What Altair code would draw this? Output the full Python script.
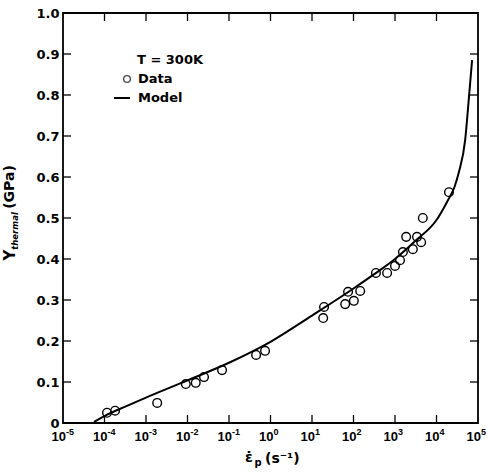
import altair as alt
import pandas as pd

# ---- data ----
data_rate = [1.15e-4, 1.8e-4, 1.86e-3, 9.1e-3, 1.58e-2, 2.5e-2, 6.8e-2, 0.45, 0.74,
             19.5, 18.6, 63, 74, 102, 145, 347, 646, 1000, 1320, 1550, 1860,
             2690, 3390, 4270, 4680, 2.0e4]
data_y = [0.025, 0.030, 0.049, 0.095, 0.098, 0.112, 0.129, 0.166, 0.176,
          0.283, 0.256, 0.290, 0.320, 0.298, 0.322, 0.366, 0.366, 0.383, 0.397, 0.417, 0.454,
          0.424, 0.454, 0.441, 0.500, 0.563]

model_rate = [5.6e-5, 1.0e-4, 3.16e-4, 1.0e-3, 1.0e-2, 1.0e-1, 1.0, 10.0, 100.0, 316.0,
              1000.0, 3162.0, 1.0e4, 1.9e4, 2.7e4, 3.47e4, 4.9e4, 6.0e4, 7.2e4]
model_y = [0.003, 0.017, 0.040, 0.062, 0.104, 0.147, 0.198, 0.262, 0.328, 0.363,
           0.400, 0.445, 0.495, 0.544, 0.575, 0.612, 0.690, 0.790, 0.885]

x_ticks = [1e-5, 1e-4, 1e-3, 1e-2, 1e-1, 1, 10, 100, 1000, 1e4, 1e5]
x_tick_base = ["10"] * 11
x_tick_exp = ["-5", "-4", "-3", "-2", "-1", "0", "1", "2", "3", "4", "5"]
y_ticks = [0, 0.1, 0.2, 0.3, 0.4, 0.5, 0.6, 0.7, 0.8, 0.9, 1.0]
inner_x_ticks = [1e-4, 1e-3, 1e-2, 1e-1, 1, 10, 100, 1000, 1e4]
inner_y_ticks = [0.1, 0.2, 0.3, 0.4, 0.5, 0.6, 0.7, 0.8, 0.9]

W, H = 415, 410
TL = 8
LF = "DejaVu Sans"

df_data = pd.DataFrame({"rate": data_rate, "Y": data_y})
df_model = pd.DataFrame({"rate": model_rate, "Y": model_y})
df_xt = pd.DataFrame({"rate": inner_x_ticks})
df_yt = pd.DataFrame({"Y": inner_y_ticks})
df_xl = pd.DataFrame({"rate": x_ticks, "base": x_tick_base, "exp": x_tick_exp})
one = pd.DataFrame({"a": [0]})

xscale = alt.Scale(type="log", domain=[1e-5, 1e5], nice=False)
yscale = alt.Scale(domain=[0, 1.0], nice=False, zero=True)

X = alt.X("rate:Q", scale=xscale,
          axis=alt.Axis(values=x_ticks, labels=False, ticks=False, domain=False, grid=False, title=None))
Y = alt.Y("Y:Q", scale=yscale,
          axis=alt.Axis(values=y_ticks, labelExpr="datum.value == 0 ? '0' : format(datum.value, '.1f')",
                        ticks=False, domain=False, grid=False, title=None,
                        labelFont=LF, labelFontSize=13, labelFontWeight="bold",
                        labelColor="black", labelPadding=4, labelFlush=False))

model = alt.Chart(df_model).mark_line(color="black", strokeWidth=2, interpolate="monotone").encode(x=X, y=Y)
points = alt.Chart(df_data).mark_point(shape="circle", size=75, filled=False, color="black",
                                       strokeWidth=1.4, opacity=1).encode(x="rate:Q", y="Y:Q")

# x tick labels: "10" with raised exponent
xl_base = alt.Chart(df_xl).mark_text(font="Liberation Sans", fontSize=13, fontWeight="bold",
                                     color="black", align="right", baseline="middle", dx=3).encode(
    x="rate:Q", y=alt.value(H + 14), text="base:N")
xl_exp = alt.Chart(df_xl).mark_text(font="Liberation Sans", fontSize=9, fontWeight="bold",
                                    color="black", align="left", baseline="middle", dx=3).encode(
    x="rate:Q", y=alt.value(H + 9), text="exp:N")

# inward tick marks on all four sides
tk = dict(color="black", strokeWidth=1.3)
t_bottom = alt.Chart(df_xt).mark_rule(**tk).encode(x="rate:Q", y=alt.value(H), y2=alt.value(H - TL))
t_top = alt.Chart(df_xt).mark_rule(**tk).encode(x="rate:Q", y=alt.value(0), y2=alt.value(TL))
t_left = alt.Chart(df_yt).mark_rule(**tk).encode(y="Y:Q", x=alt.value(0), x2=alt.value(TL))
t_right = alt.Chart(df_yt).mark_rule(**tk).encode(y="Y:Q", x=alt.value(W), x2=alt.value(W - TL))

def txt(s, x, y, size=13, **kw):
    opts = dict(font=LF, fontSize=size, fontWeight="bold", color="black", baseline="middle", align="left")
    opts.update(kw)
    return alt.Chart(one).mark_text(**opts).encode(x=alt.value(x), y=alt.value(y), text=alt.value(s))

# legend
leg_T = txt("T = 300K", 74, 47, 13)
leg_circle = alt.Chart(one).mark_point(shape="circle", size=45, filled=False, color="black",
                                       strokeWidth=1.4).encode(x=alt.value(64), y=alt.value(66))
leg_data = txt("Data", 75, 66, 13)
leg_line = alt.Chart(one).mark_rule(color="black", strokeWidth=2).encode(
    x=alt.value(51), x2=alt.value(67), y=alt.value(85))
leg_model = txt("Model", 75, 85, 13)

# y axis title (rotated)
yt_Y = txt("Y", -53, 242, 15, angle=270, align="center")
yt_sub = txt("thermal", -48, 218, 8.5, angle=270, align="center", fontStyle="italic")
yt_gpa = txt("(GPa)", -53, 174, 14, angle=270, align="center")

# x axis title
xt_eps = txt("\u03b5\u0307", 186, 445, 14, align="center")
xt_p = txt("p", 195, 450, 10, align="center")
xt_unit = txt("(s\u207b\u00b9)", 202, 446, 14, align="left")

chart = alt.layer(
    model, points, xl_base, xl_exp, t_bottom, t_top, t_left, t_right,
    leg_T, leg_circle, leg_data, leg_line, leg_model,
    yt_Y, yt_sub, yt_gpa, xt_eps, xt_p, xt_unit
).properties(
    width=W, height=H,
    autosize=alt.AutoSizeParams(type="none"),
    padding={"left": 63, "top": 13, "right": 10, "bottom": 50},
    background="white",
).configure_view(stroke="black", strokeWidth=1.8)

chart.save("out.html", embed_options={"renderer": "svg", "actions": False})
